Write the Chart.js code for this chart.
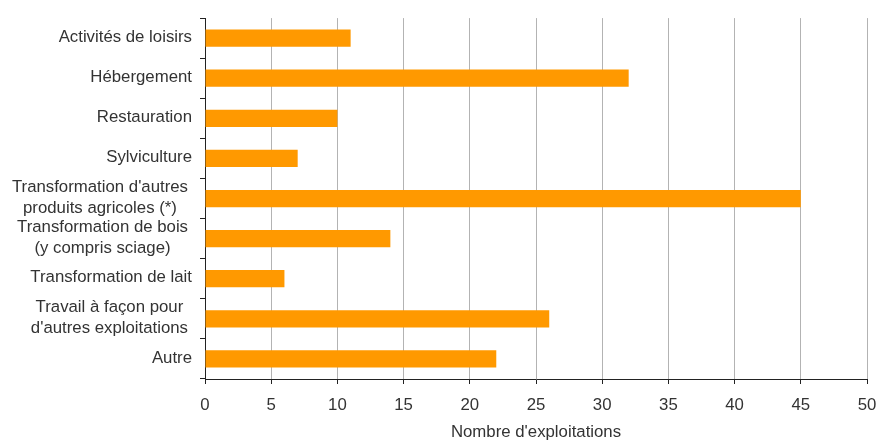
<!DOCTYPE html>
<html>
<head>
<meta charset="utf-8">
<script src="https://cdn.jsdelivr.net/npm/chart.js@4/dist/chart.umd.min.js"></script>
<style>
  html, body { margin: 0; padding: 0; background: #fff; }
  #wrap { width: 877px; height: 441px; }
</style>
</head>
<body>
<div id="wrap"><canvas id="myChart" width="877" height="441"></canvas></div>
<script>
// activity labels (multi-line ones split into arrays)
var activites = [
    "Activités de loisirs",
    "Hébergement",
    "Restauration",
    "Sylviculture",
    ["Transformation d'autres", "produits agricoles (*)"],
    ["Transformation de bois", "(y compris sciage)"],
    "Transformation de lait",
    ["Travail à façon pour", "d'autres exploitations"],
    "Autre"
];
var nbExploitations = [11, 32, 10, 7, 45, 14, 6, 26, 22];

var xMin = 0;
var xMax = 50;
var xStep = 5;
var xTitle = "Nombre d'exploitations";

var textColor = "#333333";
var fontFamily = "'Liberation Sans', Arial, sans-serif";
var font = { family: fontFamily, size: 16.8 };

// category labels: block right-aligned against the axis, lines centred inside the block
var categoryLabels = {
    id: "categoryLabels",
    afterDraw: function (chart) {
        var ctx = chart.ctx;
        var yScale = chart.scales.y;
        var lineH = 21;
        ctx.save();
        ctx.font = font.size + "px " + fontFamily;
        ctx.fillStyle = textColor;
        ctx.textBaseline = "middle";
        ctx.textAlign = "center";
        activites.forEach(function (label, i) {
            var lines = Array.isArray(label) ? label : [label];
            var widths = lines.map(function (l) { return ctx.measureText(l).width; });
            var blockW = Math.max.apply(null, widths);
            // wrapped labels sit a little further from the axis
            var right = yScale.right - (lines.length > 1 ? 17 : 13);
            var cx = right - blockW / 2;
            var cy = yScale.getPixelForTick(i) - 1;
            var y0 = cy - (lines.length - 1) * lineH / 2;
            lines.forEach(function (l, j) {
                ctx.fillText(l, cx, y0 + j * lineH);
            });
        });
        ctx.restore();
    }
};

var data = {
    labels: activites,
    datasets: [
        {
            label: xTitle,
            data: nbExploitations,
            backgroundColor: "#FF9900",
            borderWidth: 0,
            categoryPercentage: 1.0,
            barPercentage: 0.43
        }
    ]
};

var options = {
    indexAxis: "y",
    responsive: false,
    animation: false,
    layout: { padding: { left: 0, right: 0, top: 16, bottom: 0 } },
    plugins: {
        legend: { display: false },
        tooltip: { enabled: false }
    },
    scales: {
        x: {
            min: xMin,
            max: xMax,
            ticks: { stepSize: xStep, color: textColor, font: font, padding: 11 },
            grid: {
                color: "#b3b3b3",
                lineWidth: 1,
                drawTicks: true,
                tickLength: 5,
                tickColor: "#222222"
            },
            border: { display: true, color: "#222222", width: 1 },
            title: {
                display: true,
                text: xTitle,
                color: textColor,
                font: { family: fontFamily, size: 16.8, lineHeight: 1.0 },
                padding: { top: 10, bottom: 0 }
            },
            afterFit: function (scale) {
                scale.height = 62;
                scale.paddingLeft = 0;
                scale.paddingRight = 10;
            }
        },
        y: {
            ticks: { color: "rgba(0,0,0,0)", font: font, padding: 8, autoSkip: false },
            grid: {
                offset: true,
                drawOnChartArea: false,
                drawTicks: true,
                tickLength: 5,
                color: "#222222"
            },
            border: { display: true, color: "#222222", width: 1 },
            afterFit: function (scale) { scale.width = 205; }
        }
    }
};

var ctx = document.getElementById("myChart").getContext("2d");
var myBarChart = new Chart(ctx, { type: "bar", data: data, options: options, plugins: [categoryLabels] });
</script>
</body>
</html>
